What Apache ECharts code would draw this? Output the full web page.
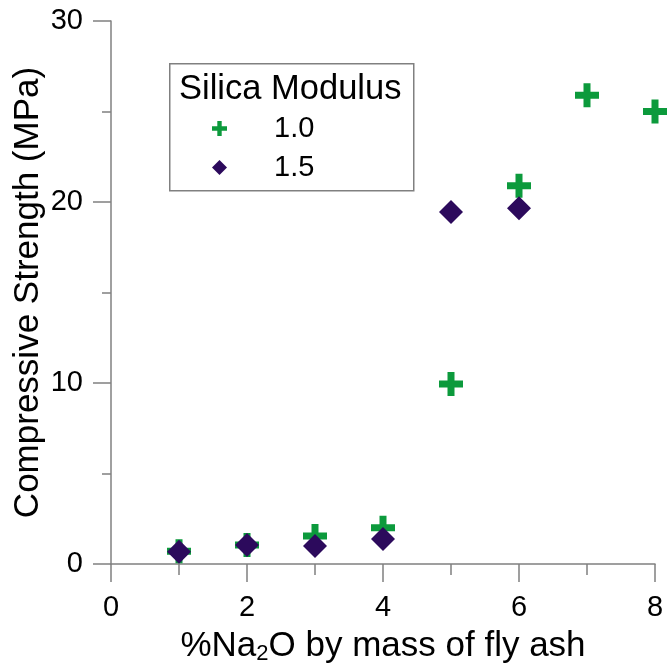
<!DOCTYPE html>
<html>
<head>
<meta charset="utf-8">
<script src="https://cdn.jsdelivr.net/npm/echarts@6/dist/echarts.min.js"></script>
<style>html,body{margin:0;padding:0;background:#fff}#c{width:668px;height:668px}</style>
</head>
<body>
<div id="c"></div>
<script>
var naPercent = [1, 2, 3, 4, 5, 6, 7, 8];
var sm10 = [0.7, 1.05, 1.55, 2.0, 9.95, 20.9, 25.9, 25.0];
var naPercent15 = [1, 2, 3, 4, 5, 6];
var sm15 = [0.68, 1.05, 1.0, 1.38, 19.45, 19.65];
var xTicks = [0, 2, 4, 6, 8];
var yTicks = [0, 10, 20, 30];

var GREEN = '#0c9a3c';
var PURPLE = '#2c0a5c';
var AXIS = '#808080';
var FONT = '"Liberation Sans", Arial, sans-serif';
var plusPath = 'path://M8.5,0 H15.5 V8.5 H24 V15.5 H15.5 V24 H8.5 V15.5 H0 V8.5 H8.5 Z';

function pairs(xs, ys) { return xs.map(function (x, i) { return [x, ys[i]]; }); }

var chart = echarts.init(document.getElementById('c'), null, { renderer: 'canvas' });
chart.setOption({
  animation: false,
  textStyle: { fontFamily: FONT },
  grid: { left: 111, right: 13, top: 21, bottom: 104, containLabel: false, outerBoundsMode: 'none' },
  xAxis: {
    type: 'value', min: xTicks[0], max: xTicks[xTicks.length - 1], interval: 2,
    axisLine: { show: true, onZero: false, lineStyle: { color: AXIS, width: 1.5 } },
    axisTick: { show: true, inside: false, length: 18, lineStyle: { color: AXIS, width: 1.5 } },
    minorTick: { show: true, splitNumber: 2, length: 11, lineStyle: { color: AXIS, width: 1.5 } },
    splitLine: { show: false },
    axisLabel: { color: '#000', fontSize: 29, fontFamily: FONT, margin: 29 },
    name: '%Na{sub|2}O by mass of fly ash',
    nameLocation: 'middle', nameGap: 63, nameMoveOverlap: false,
    nameTextStyle: {
      color: '#000', fontSize: 35, fontFamily: FONT,
      rich: { sub: { fontSize: 22, verticalAlign: 'bottom', padding: [16, 0, 0, 0], color: '#000', fontFamily: FONT } }
    }
  },
  yAxis: {
    type: 'value', min: yTicks[0], max: yTicks[yTicks.length - 1], interval: 10,
    axisLine: { show: true, onZero: false, lineStyle: { color: AXIS, width: 1.5 } },
    axisTick: { show: true, inside: false, length: 18, lineStyle: { color: AXIS, width: 1.5 } },
    minorTick: { show: true, splitNumber: 2, length: 9, lineStyle: { color: AXIS, width: 1.5 } },
    splitLine: { show: false },
    axisLabel: { color: '#000', fontSize: 29, fontFamily: FONT, margin: 28 },
    name: 'Compressive Strength (MPa)',
    nameLocation: 'middle', nameGap: 65, nameMoveOverlap: false,
    nameTextStyle: { color: '#000', fontSize: 35, fontFamily: FONT }
  },
  legend: {
    orient: 'vertical', left: 207, top: 109,
    itemWidth: 15, itemHeight: 15, itemGap: 10,
    textStyle: { color: '#000', fontSize: 29, fontFamily: FONT, padding: [0, 0, 0, 42] },
    data: [
      { name: '1.0', icon: plusPath },
      { name: '1.5', icon: 'diamond' }
    ]
  },
  graphic: [
    { type: 'rect', left: 169, top: 63, shape: { width: 244, height: 127 },
      style: { fill: 'rgba(0,0,0,0)', stroke: AXIS, lineWidth: 1.5 }, z: 10 },
    { type: 'text', left: 179, top: 72,
      style: { text: 'Silica Modulus', fill: '#000', font: '34.5px ' + FONT }, z: 10 }
  ],
  series: [
    { name: '1.0', type: 'scatter', symbol: plusPath, symbolSize: 24, symbolKeepAspect: true,
      itemStyle: { color: GREEN, opacity: 1 }, data: pairs(naPercent, sm10), z: 2 },
    { name: '1.5', type: 'scatter', symbol: 'diamond', symbolSize: [24, 24],
      itemStyle: { color: PURPLE, opacity: 1 }, data: pairs(naPercent15, sm15), z: 3 }
  ]
});
</script>
</body>
</html>
